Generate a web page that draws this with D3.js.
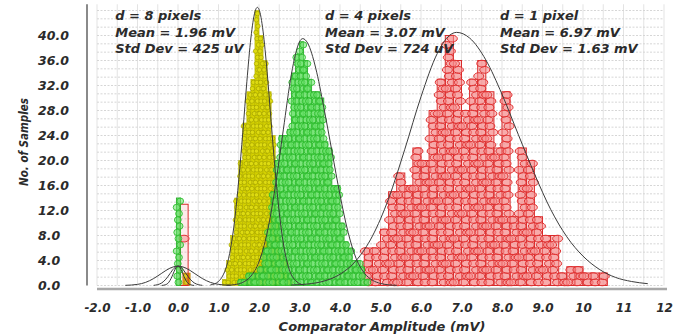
<!DOCTYPE html>
<html>
<head>
<meta charset="utf-8">
<script src="https://cdn.jsdelivr.net/npm/d3@7"></script>
<style>
  body { margin: 0; background: #fff; }
  text { font-family: "DejaVu Sans", sans-serif; font-weight: bold; font-style: italic; fill: #2b2b2b; }
</style>
</head>
<body>
<svg id="chart" width="694" height="335"></svg>
<script>
// ---- data ----
// histogram bins: left edge (mV) and sample count
const yellowX = [1.1, 1.2, 1.3, 1.4, 1.5, 1.6, 1.7, 1.8, 1.9, 2.0, 2.1, 2.2, 2.3, 2.4, 2.5, 2.6, 2.7];
const yellowN = [1, 4, 8, 14, 20, 26, 31, 33, 44, 40, 36, 31, 24, 10, 6, 4, 2];

const greenX = [1.5, 1.6, 1.7, 1.8, 1.9, 2.0, 2.1, 2.2, 2.3, 2.4, 2.5, 2.6, 2.7, 2.8, 2.9, 3.0,
                3.1, 3.2, 3.3, 3.4, 3.5, 3.6, 3.7, 3.8, 3.9, 4.0, 4.1, 4.2, 4.3, 4.4, 4.5, 4.6];
const greenN = [1, 1, 2, 2, 2, 3, 6, 9, 15, 20, 24, 24, 25, 34, 37, 39,
                36, 33, 31, 31, 30, 23, 22, 16, 16, 10, 7, 6, 4, 4, 3, 1];

const redX = [4.6, 4.8, 5.0, 5.2, 5.4, 5.6, 5.8, 6.0, 6.2, 6.4, 6.6, 6.8, 7.0, 7.2, 7.4,
              7.6, 7.8, 8.0, 8.2, 8.4, 8.6, 8.8, 9.0, 9.2, 9.4, 9.6, 9.8, 10.0, 10.2, 10.4];
const redN = [6, 6, 9, 15, 18, 16, 22, 20, 28, 33, 40, 36, 28, 33, 36,
              31, 22, 31, 11, 22, 20, 11, 8, 8, 2, 3, 3, 2, 2, 2];

// the bins sitting at 0 mV
const zeroGreenX = [-0.04], zeroGreenN = [14];
const zeroRedX = [0.05], zeroRedN = [13], zeroRedMarks = [7];
const zeroYellowX = [0.12], zeroYellowN = [2];

// fitted curves [mV, count]
const yellowFit = [[0.8, 0.1], [0.9, 0.25], [1.0, 0.65], [1.1, 1.5], [1.2, 3.1], [1.3, 6.0], [1.4, 10.5],
  [1.5, 16.9], [1.6, 24.5], [1.7, 32.6], [1.8, 39.6], [1.9, 43.8], [1.96, 44.5], [2.0, 44.2], [2.1, 40.7],
  [2.2, 34.2], [2.3, 26.2], [2.4, 18.3], [2.5, 11.7], [2.6, 6.8], [2.7, 3.6], [2.8, 1.7], [2.9, 0.8],
  [3.0, 0.3], [3.1, 0.1]];
const greenFit = [[1.2, 0.03], [1.4, 0.14], [1.6, 0.5], [1.8, 1.5], [2.0, 3.8], [2.2, 8.4], [2.4, 15.7],
  [2.6, 24.9], [2.8, 33.8], [2.9, 37.0], [3.0, 39.0], [3.08, 39.5], [3.2, 38.8], [3.4, 34.8], [3.6, 28.5],
  [3.8, 21.5], [4.0, 14.5], [4.2, 8.5], [4.4, 4.3], [4.6, 2.0], [4.8, 0.85], [5.0, 0.33], [5.2, 0.11], [5.4, 0.03]];
const redFit = [[2.8, 0.08], [3.2, 0.24], [3.6, 0.7], [4.0, 1.8], [4.4, 4.0], [4.8, 7.9], [5.2, 13.9],
  [5.6, 21.8], [6.0, 30.2], [6.4, 37.1], [6.7, 40.0], [6.88, 40.5], [7.2, 39.6], [7.6, 36.1], [8.0, 30.6],
  [8.4, 24.2], [8.8, 17.9], [9.2, 12.2], [9.6, 7.8], [10.0, 4.7], [10.4, 2.6], [10.8, 1.3], [11.2, 0.64], [11.6, 0.29]];
const zeroFitWide = [[-1.3, 0.03], [-1.0, 0.18], [-0.8, 0.5], [-0.6, 1.12], [-0.4, 1.97], [-0.2, 2.77], [0, 3.1],
  [0.2, 2.77], [0.4, 1.97], [0.6, 1.12], [0.8, 0.5], [1.0, 0.18], [1.3, 0.03]];
const zeroFitMid = [[-0.6, 0.03], [-0.5, 0.14], [-0.4, 0.42], [-0.3, 1.01], [-0.2, 1.88], [-0.1, 2.74], [0, 3.1],
  [0.1, 2.74], [0.2, 1.88], [0.3, 1.01], [0.4, 0.42], [0.5, 0.14], [0.6, 0.03]];
const zeroFitNarrow = [[-0.4, 0.01], [-0.3, 0.14], [-0.25, 0.35], [-0.2, 0.77], [-0.15, 1.42], [-0.1, 2.19],
  [-0.05, 2.84], [0, 3.1], [0.05, 2.84], [0.1, 2.19], [0.15, 1.42], [0.2, 0.77], [0.25, 0.35], [0.3, 0.14], [0.4, 0.01]];

// axes
const xTicks = [-2, -1, 0, 1, 2, 3, 4, 5, 6, 7, 8, 9, 10, 11, 12];
const xTickLabels = ["-2.0", "-1.0", "0.0", "1.0", "2.0", "3.0", "4.0", "5.0", "6.0", "7.0", "8.0", "9.0", "10", "11", "12"];
const yTicks = [0, 4, 8, 12, 16, 20, 24, 28, 32, 36, 40];

// annotation text, anchored at an x value in mV
const noteX = [-1.55, 3.63, 7.95];
const noteLines = [
  ["d = 8 pixels", "Mean = 1.96 mV", "Std Dev = 425 uV"],
  ["d = 4 pixels", "Mean = 3.07 mV", "Std Dev = 724 uV"],
  ["d = 1 pixel", "Mean = 6.97 mV", "Std Dev = 1.63 mV"]
];

// ---- setup ----
const svg = d3.select("#chart");
const x = d3.scaleLinear().domain([-2, 12]).range([97, 664]);
const y = d3.scaleLinear().domain([0, 45]).range([285.5, 4.25]);

// grid
const grid = svg.append("g");
grid.selectAll(".vg")
  .data(d3.range(-2, 12.01, 0.5))
  .enter().append("line")
  .attr("x1", d => x(d)).attr("x2", d => x(d))
  .attr("y1", y(45)).attr("y2", y(0))
  .attr("stroke", "#e3e3e3").attr("stroke-width", 1);
grid.selectAll(".hg")
  .data(d3.range(0, 45.01, 4 / 3))
  .enter().append("line")
  .attr("x1", x(-2)).attr("x2", x(12))
  .attr("y1", d => y(d)).attr("y2", d => y(d))
  .attr("stroke", "#d6d6d6").attr("stroke-width", 1)
  .attr("stroke-dasharray", "2,1.5");

// axis lines
svg.append("line")
  .attr("x1", 87).attr("x2", 87).attr("y1", y(45)).attr("y2", y(0))
  .attr("stroke", "#8a8a8a").attr("stroke-width", 2);
svg.append("line")
  .attr("x1", x(-2)).attr("x2", x(12) + 3).attr("y1", 289).attr("y2", 289)
  .attr("stroke", "#a8a8a8").attr("stroke-width", 2.5);

// axis labels through d3 axes
const xAxis = svg.append("g")
  .attr("transform", "translate(0,289)")
  .call(d3.axisBottom(x).tickValues(xTicks).tickSize(0).tickPadding(14)
    .tickFormat((d, i) => xTickLabels[i]));
xAxis.select(".domain").remove();
xAxis.selectAll("text")
  .attr("font-size", 12).attr("font-family", null)
  .attr("fill", "#2b2b2b");

const yAxis = svg.append("g")
  .call(d3.axisLeft(y).tickValues(yTicks).tickSize(0).tickFormat(d3.format(".1f")));
yAxis.select(".domain").remove();
yAxis.selectAll("text")
  .attr("x", 38).attr("text-anchor", "start")
  .attr("font-size", 12.5).attr("font-family", null)
  .attr("fill", "#2b2b2b");

svg.append("text")
  .attr("x", 382).attr("y", 331)
  .attr("text-anchor", "middle")
  .attr("font-size", 13)
  .text("Comparator Amplitude (mV)");

svg.append("text")
  .attr("transform", "translate(28,142) rotate(-90)")
  .attr("text-anchor", "middle")
  .attr("font-size", 11.5)
  .style("font-family", "'DejaVu Sans Condensed', 'DejaVu Sans', sans-serif")
  .text("No. of Samples");

// ---- histograms ----
const jitter = [0, -2, 2, -1, 1, -3, 3];

function drawHist(xs, ns, binW, st) {
  const g = svg.append("g");
  const bins = xs.map((v, i) => ({x0: v, n: ns[i], i: i}));
  g.selectAll("rect")
    .data(bins)
    .enter().append("rect")
    .attr("x", d => x(d.x0))
    .attr("width", x(binW) - x(0))
    .attr("y", d => y(d.n))
    .attr("height", d => y(0) - y(d.n))
    .attr("fill", st.fill)
    .attr("stroke", st.stroke)
    .attr("stroke-width", st.sw);
  const marks = [];
  bins.forEach(b => {
    (st.only || d3.range(b.n)).forEach(k => {
      marks.push({cx: x(b.x0 + binW / 2) + jitter[(k + b.i * 3) % 7] * st.jit, k: k});
    });
  });
  g.selectAll("ellipse")
    .data(marks)
    .enter().append("ellipse")
    .attr("cx", d => d.cx)
    .attr("cy", d => y(d.k + 0.5))
    .attr("rx", st.rx).attr("ry", st.ry)
    .attr("fill", st.dotFill)
    .attr("stroke", st.dotStroke)
    .attr("stroke-width", st.dsw);
}

const redStyle = {fill: "rgba(240,120,120,0.35)", stroke: "#d92a2a", sw: 1,
  rx: 5, ry: 3.4, dotFill: "rgba(245,140,140,0.55)", dotStroke: "#e03030", dsw: 1, jit: 1};
const yellowStyle = {fill: "#d6d300", stroke: "#b5b000", sw: 0.6,
  rx: 2.2, ry: 2.2, dotFill: "#dedb10", dotStroke: "#9c9a00", dsw: 0.6, jit: 0.5};
const greenStyle = {fill: "rgba(50,205,50,0.55)", stroke: "#1fa51f", sw: 0.8,
  rx: 3.4, ry: 3.1, dotFill: "rgba(110,228,110,0.55)", dotStroke: "#2fbd2f", dsw: 0.9, jit: 0.6};

// bins at zero
drawHist(zeroYellowX, zeroYellowN, 0.18, Object.assign({}, yellowStyle, {fill: "#d9a400", stroke: "#c08000"}));
drawHist(zeroRedX, zeroRedN, 0.2, Object.assign({}, redStyle, {fill: "rgba(240,120,120,0.15)", only: zeroRedMarks}));
drawHist(zeroGreenX, zeroGreenN, 0.1, greenStyle);

// main groups
drawHist(redX, redN, 0.2, redStyle);
drawHist(yellowX, yellowN, 0.1, yellowStyle);
drawHist(greenX, greenN, 0.1, greenStyle);

// ---- fitted curves ----
const line = d3.line()
  .x(d => x(d[0]))
  .y(d => y(d[1]))
  .curve(d3.curveMonotoneX);

[zeroFitWide, zeroFitMid, zeroFitNarrow, yellowFit, greenFit, redFit].forEach(c => {
  svg.append("path")
    .attr("d", line(c))
    .attr("fill", "none")
    .attr("stroke", "#3c3c3c")
    .attr("stroke-width", 1);
});

// ---- annotations ----
noteLines.forEach((lines, j) => {
  const t = svg.append("text")
    .attr("x", x(noteX[j]))
    .attr("y", 20)
    .attr("font-size", 13);
  t.selectAll("tspan")
    .data(lines)
    .enter().append("tspan")
    .attr("x", x(noteX[j]))
    .attr("dy", (d, i) => i === 0 ? 0 : 16.5)
    .text(d => d);
});
</script>
</body>
</html>
